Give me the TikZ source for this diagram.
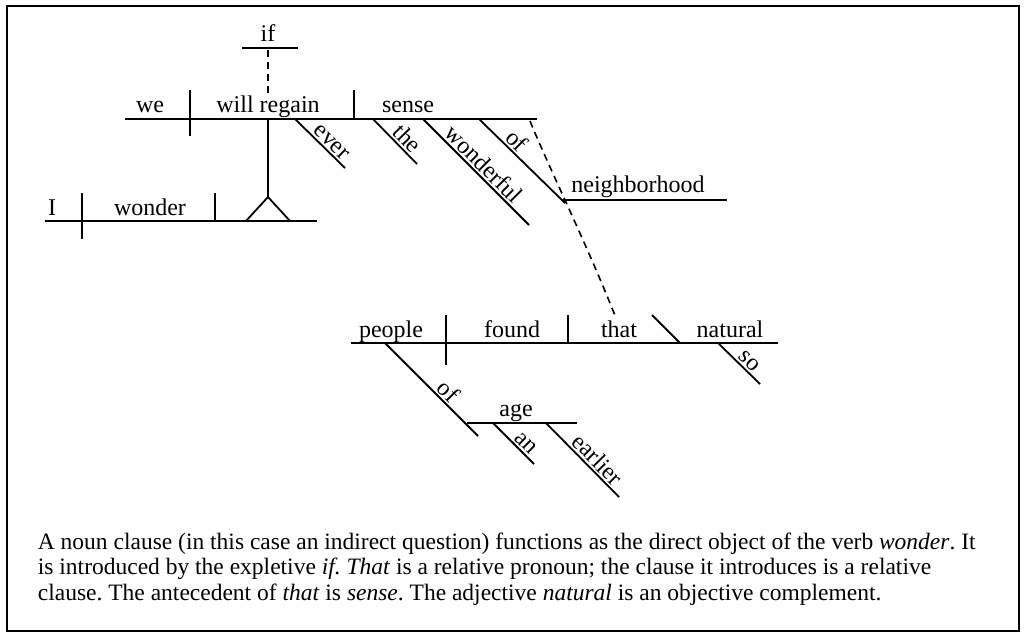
\documentclass[tikz,border=0pt]{standalone}
\usepackage{fontspec}
\setmainfont{Liberation Serif}
\usetikzlibrary{positioning}

\begin{document}
\frenchspacing
\begin{tikzpicture}[x=1pt, y=-1pt, line width=1.8pt,
    word/.style={anchor=base, inner sep=0pt, font=\fontsize{24}{26}\selectfont},
    slant/.style={sloped, above, inner sep=2pt, font=\fontsize{24}{26}\selectfont},
    link/.style={line width=1.6pt, dash pattern=on 7pt off 5pt},
    note/.style={anchor=base west, inner sep=0pt, font=\fontsize{23.5}{25.5}\selectfont}]
  \useasboundingbox (0,0) rectangle (1027,639);
  \draw (7,6) rectangle (1019,631);
  % I wonder
  \coordinate (main) at (45,221);
  \draw (main) -- (317,221);
  \draw (82,193) -- (82,239);
  \draw (215,193) -- (215,221);
  \node[word] (I) at (52,215) {I};
  \node[word] (wonder) at (150,215) {wonder};
  % noun clause on its pedestal
  \coordinate (clause) at (125,119);
  \draw (clause) -- (537,119);
  \draw (190,90) -- (190,136);
  \draw (354,90) -- (354,119);
  \node[word] (we) at (150,113) {we};
  \node[word] (regain) at (268,113) {will regain};
  \node[word] (sense) at (408,113) {sense};
  \draw (268,119) -- (268,197);
  \draw (246,221) -- (268,197) -- (290,221);
  % expletive
  \draw (242,48) -- (298,48);
  \node[word] (if) at (268,42) {if};
  \draw[link] (268,50) -- (268,95);
  % modifiers
  \draw (295,119) -- node[slant, pos=0.6] (ever) {ever} (345,168);
  \draw (373,119) -- node[slant, pos=0.6] (the) {the} (417,164);
  \draw (423,119) -- node[slant, pos=0.5] (wonderful) {wonderful} (529,225);
  \draw (479,119) -- node[slant, pos=0.35] (of) {of} (565,203);
  \draw (562,200) -- (727,200);
  \node[word] (neighborhood) at (638,193) {neighborhood};
  % relative clause
  \coordinate (rel) at (351,343);
  \draw (rel) -- (778,343);
  \draw (446,315) -- (446,365);
  \draw (568,315) -- (568,343);
  \draw (652,315) -- (680,343);
  \node[word] (people) at (391,337) {people};
  \node[word] (found) at (512,337) {found};
  \node[word] (that) at (619,337) {that};
  \node[word] (natural) at (730,337) {natural};
  \draw (718,343) -- node[slant, pos=0.6] (so) {so} (760,384);
  \draw (385,343) -- node[slant, pos=0.6] (ofage) {of} (478,436);
  \draw (467,423) -- (577,423);
  \node[word] (age) at (516,416) {age};
  \draw (493,423) -- node[slant, pos=0.65] (an) {an} (534,464);
  \draw (546,423) -- node[slant, pos=0.6] (earlier) {earlier} (619,497);
  % antecedent
  \draw[link] (530,121) .. controls (550,170) and (585,240) .. (616,318);
  % explanation
  \node[note] (line1) at (37,549) {A noun clause (in this case an indirect question) functions as the direct object of the verb \textit{wonder}. It};
  \node[note] (line2) at (37,574.5) {is introduced by the expletive \textit{if. That} is a relative pronoun; the clause it introduces is a relative};
  \node[note] (line3) at (37,600) {clause. The antecedent of \textit{that} is \textit{sense}. The adjective \textit{natural} is an objective complement.};
\end{tikzpicture}
\end{document}
